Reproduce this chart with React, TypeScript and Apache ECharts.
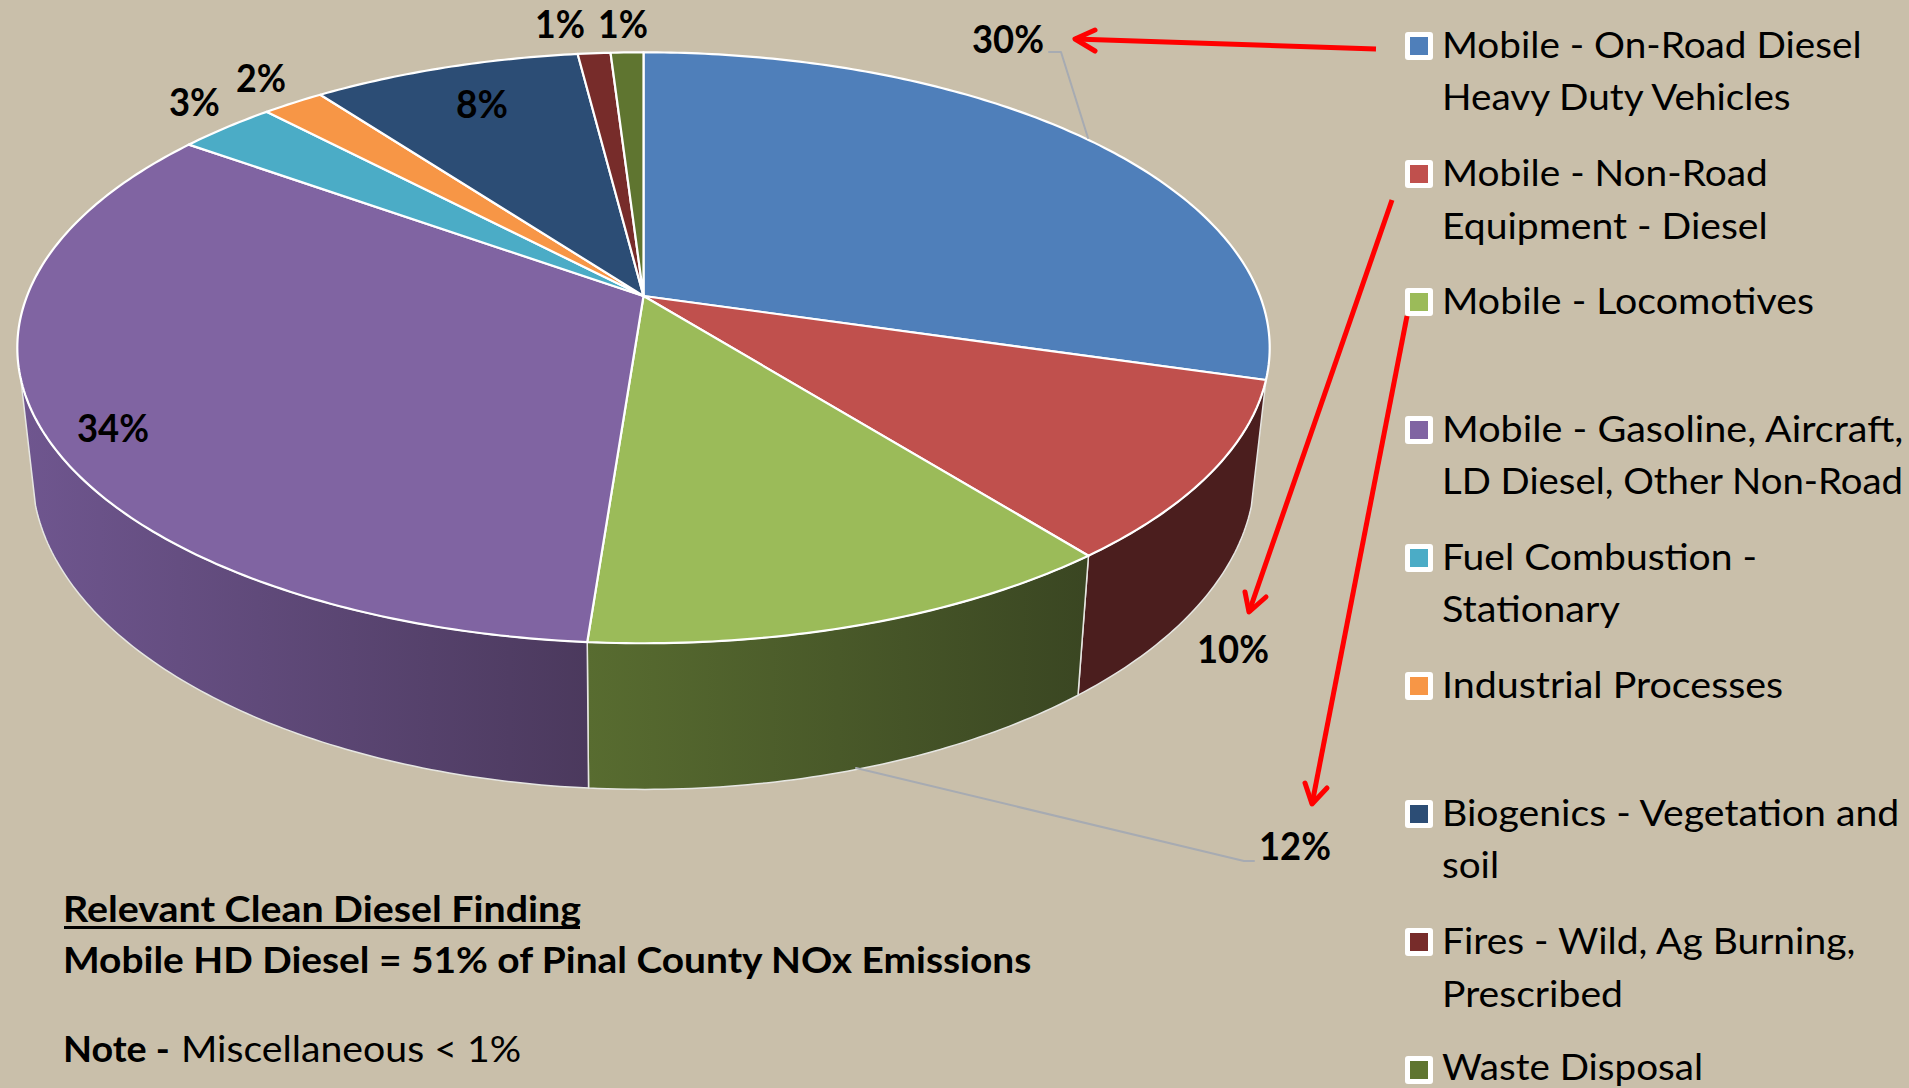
import React, { useEffect, useRef } from "react";
import * as echarts from "echarts";

const sliceNames = [
  "Mobile - On-Road Diesel Heavy Duty Vehicles",
  "Mobile - Non-Road Equipment - Diesel",
  "Mobile - Locomotives",
  "Mobile - Gasoline, Aircraft, LD Diesel, Other Non-Road",
  "Fuel Combustion - Stationary",
  "Industrial Processes",
  "Biogenics - Vegetation and soil",
  "Fires - Wild, Ag Burning, Prescribed",
  "Waste Disposal",
];
const sliceValues = [29.5, 9.8, 11.9, 33.7, 3.0, 1.9, 8.2, 1.0, 1.0];
const sliceLabels = ["30%", "10%", "12%", "34%", "3%", "2%", "8%", "1%", "1%"];
const topColors = ["#4f7fba", "#c0504d", "#9bbb59", "#8064a2", "#4bacc6", "#f79646", "#2c4d75", "#772c2a", "#5f7530"];
const wallLeft = ["#3b5f8c", "#4b1e1e", "#586c30", "#6f568f", "#38808f", "#b06a30", "#203850", "#551f1e", "#445422"];
const wallRight = ["#3b5f8c", "#4b1e1e", "#3a4622", "#4b395d", "#38808f", "#b06a30", "#203850", "#551f1e", "#445422"];
const labelBoxes = [
  [972, 1044, 38.5], [1197, 1269, 648.5], [1259, 1331, 845], [77, 149, 427], [169, 220, 101],
  [236, 286, 77], [456, 508, 102.5], [535, 585, 23], [598, 648, 23],
];

const legendLines = [
  ["Mobile - On-Road Diesel", "Heavy Duty Vehicles"],
  ["Mobile - Non-Road", "Equipment - Diesel"],
  ["Mobile - Locomotives"],
  ["Mobile - Gasoline, Aircraft,", "LD Diesel, Other Non-Road"],
  ["Fuel Combustion -", "Stationary"],
  ["Industrial Processes"],
  ["Biogenics - Vegetation and", "soil"],
  ["Fires - Wild, Ag Burning,", "Prescribed"],
  ["Waste Disposal"],
];
const legendWidths = [[420, 352], [326, 326], [372], [463, 462], [315, 178], [341], [459, 57], [415, 181], [261]];

const FONT = "Lato, Carlito, 'Open Sans', sans-serif";
const BG = "#c9bfaa";

// perspective view of the round pie
const P = -0.1753;
const CX = 643.5;
const topFace = { A: 616.5, Y0: 296, B: 234.5 };
const baseFace = { A: 602, Y0: 416, B: 235 };
const WALL_FROM = (29.5 / 100) * 360;
const WALL_TO = 254;

function project(face: any, deg: number) {
  const t = (deg * Math.PI) / 180;
  const u = Math.sin(t);
  const v = -Math.cos(t);
  const w = 1 + P * v;
  return [CX + (face.A * u) / w, (face.Y0 + face.B * v) / w];
}
function arc(face: any, a: number, b: number) {
  const n = Math.max(2, Math.ceil((b - a) / 0.75));
  const pts: number[][] = [];
  for (let i = 0; i <= n; i++) pts.push(project(face, a + ((b - a) * i) / n));
  return pts;
}
const total = sliceValues.reduce((s, v) => s + v, 0);
function sliceRange(i: number) {
  let sum = 0;
  for (let k = 0; k < i; k++) sum += sliceValues[k];
  return [(sum / total) * 360, ((sum + sliceValues[i]) / total) * 360];
}

let measureCtx: CanvasRenderingContext2D | null = null;
function fitText(text: string, left: number, width: number, cy: number, size: number, weight: string, fill = "#000") {
  if (!measureCtx) measureCtx = document.createElement("canvas").getContext("2d");
  measureCtx!.font = `${weight} ${size}px ${FONT}`;
  const natural = measureCtx!.measureText(text).width || width;
  return {
    type: "text",
    x: left,
    y: cy,
    scaleX: width / natural,
    z: 20,
    silent: true,
    style: { text, x: 0, y: 0, fontFamily: FONT, fontSize: size, fontWeight: weight, fill, textAlign: "left", textVerticalAlign: "middle", verticalAlign: "middle" },
  };
}
function strokeLine(points: number[][], stroke: string, lineWidth: number) {
  return { type: "polyline", z: 15, silent: true, shape: { points }, style: { stroke, lineWidth, fill: "none", lineCap: "round", lineJoin: "round" } };
}
function arrow(from: number[], tip: number[], w1: number[], w2: number[]) {
  const butt = strokeLine([from, tip], "#ff0000", 5);
  (butt.style as any).lineCap = "butt";
  return [butt, strokeLine([w1, tip, w2], "#ff0000", 5)];
}

const legendCenters = [46, 174, 302, 430, 558, 686, 814, 942, 1070];

export default function App() {
  const ref = useRef<HTMLDivElement>(null);
  useEffect(() => {
    document.body.style.margin = "0";
    document.body.style.overflow = "hidden";
    const chart = echarts.init(ref.current!, undefined, { renderer: "svg" });

    const graphic: any[] = [];
    // leader lines
    graphic.push(strokeLine([[1049, 52], [1061, 52], [1088, 138]], "#a7abb2", 2));
    graphic.push(strokeLine([[856, 768], [1244, 861], [1254, 861]], "#a7abb2", 2));
    // arrows
    graphic.push(...arrow([1376, 49], [1075, 39], [1095, 30], [1095, 51]));
    graphic.push(...arrow([1392, 200], [1249, 612], [1245, 592], [1266, 597]));
    graphic.push(...arrow([1407, 316], [1312, 804], [1305, 783], [1327, 788]));
    // slice labels
    sliceLabels.forEach((t, i) => {
      const [l, r, cy] = labelBoxes[i];
      graphic.push(fitText(t, l, r - l, cy, 39, "bold"));
    });
    // legend
    legendLines.forEach((lines, i) => {
      const c = legendCenters[i];
      graphic.push({ type: "rect", z: 15, silent: true, shape: { x: 1405, y: c - 14, width: 28, height: 28, r: 3 }, style: { fill: "#ffffff" } });
      graphic.push({ type: "rect", z: 16, silent: true, shape: { x: 1410, y: c - 9, width: 18, height: 18 }, style: { fill: topColors[i] } });
      lines.forEach((t, j) => {
        const lift = i === legendLines.length - 1 ? 2 : 0;
        graphic.push(fitText(t, 1442, legendWidths[i][j], c - 2.5 - lift + j * 52.5, 37, "normal"));
      });
    });
    // notes
    graphic.push(fitText("Relevant Clean Diesel Finding", 63, 518, 908, 36, "bold"));
    graphic.push({ type: "rect", z: 15, silent: true, shape: { x: 64, y: 926, width: 516, height: 3 }, style: { fill: "#000" } });
    graphic.push(fitText("Mobile HD Diesel = 51% of Pinal County NOx Emissions", 63, 970, 959, 36, "bold"));
    graphic.push(fitText("Note -", 63, 107, 1048, 36, "bold"));
    graphic.push(fitText("Miscellaneous < 1%", 181, 340, 1048, 36, "normal"));

    const data = sliceValues.map((v, i) => ({ name: sliceNames[i], value: v }));

    chart.setOption({
      animation: false,
      backgroundColor: BG,
      tooltip: { show: false },
      graphic,
      series: [
        {
          type: "custom",
          name: "walls",
          coordinateSystem: "none",
          z: 1,
          silent: true,
          data,
          renderItem: (params: any) => {
            const i = params.dataIndex;
            const [s, e] = sliceRange(i);
            const a = Math.max(s, WALL_FROM);
            const b = Math.min(e, WALL_TO);
            if (b <= a) return { type: "group", children: [] };
            const pts = arc(topFace, a, b).concat(arc(baseFace, a, b).reverse());
            return {
              type: "polygon",
              shape: { points: pts },
              style: {
                fill: new echarts.graphic.LinearGradient(0, 0, 1, 0, [
                  { offset: 0, color: wallLeft[i] },
                  { offset: 1, color: wallRight[i] },
                ]),
                stroke: "#e6e6e2",
                lineWidth: 1.5,
                lineJoin: "round",
              },
            };
          },
        },
        {
          type: "custom",
          name: "faces",
          coordinateSystem: "none",
          z: 2,
          silent: true,
          data,
          renderItem: (params: any) => {
            const i = params.dataIndex;
            const [s, e] = sliceRange(i);
            const pts = [[CX, topFace.Y0]].concat(arc(topFace, s, e));
            return {
              type: "polygon",
              shape: { points: pts },
              style: { fill: topColors[i], stroke: "#ffffff", lineWidth: 2.2, lineJoin: "round" },
            };
          },
        },
      ],
    });
    return () => chart.dispose();
  }, []);
  return <div ref={ref} style={{ width: 1909, height: 1088 }} />;
}
